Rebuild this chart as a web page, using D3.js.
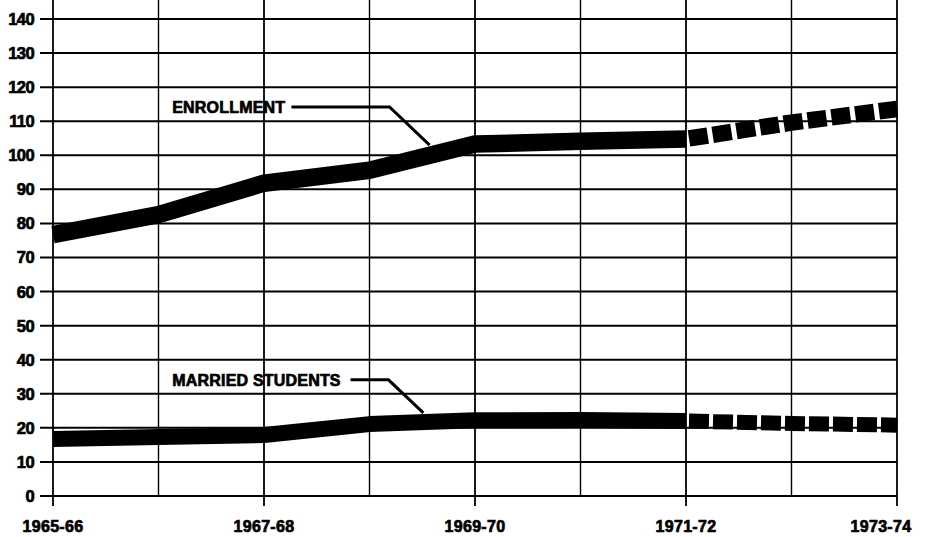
<!DOCTYPE html>
<html>
<head>
<meta charset="utf-8">
<script src="https://cdn.jsdelivr.net/npm/d3@7"></script>
<style>
  body { margin: 0; background: #fff; }
  svg text { font-family: "Liberation Sans", Arial, sans-serif; font-weight: bold; fill: #000; stroke: #000; stroke-width: 0.7px; }
</style>
</head>
<body>
<svg id="chart"></svg>
<script>
const WIDTH = 934;
const HEIGHT = 537;

const years = ['1965-66', '1966-67', '1967-68', '1968-69', '1969-70', '1970-71', '1971-72', '1972-73', '1973-74'];
const labelledYears = ['1965-66', '1967-68', '1969-70', '1971-72', '1973-74'];
const enrollment = [76.7, 82.6, 91.8, 95.6, 103.3, 104.1, 104.8, 109.6, 113.6];
const married = [16.7, 17.3, 17.9, 21.1, 22.2, 22.3, 22.0, 21.3, 20.8];
const yTicks = d3.range(0, 141, 10);
// index where the projected (dashed) part begins
const projectedFrom = 6;

const svg = d3.select('#chart')
    .attr('width', WIDTH)
    .attr('height', HEIGHT);

const x = d3.scaleLinear().domain([0, years.length - 1]).range([53, 897]);
const y = d3.scaleLinear().domain([0, 140]).range([496, 19]);

// horizontal grid + left ticks
svg.append('g')
    .attr('class', 'y-grid')
    .selectAll('line')
    .data(yTicks)
    .join('line')
    .attr('x1', 40)
    .attr('x2', x(years.length - 1))
    .attr('y1', d => y(d))
    .attr('y2', d => y(d))
    .attr('stroke', '#000')
    .attr('stroke-width', 2);

svg.append('g')
    .selectAll('text')
    .data(yTicks)
    .join('text')
    .attr('x', 34)
    .attr('y', d => y(d))
    .attr('dy', '0.36em')
    .attr('text-anchor', 'end')
    .attr('font-size', 16.5)
    .attr('letter-spacing', -0.6)
    .text(d => d);

// vertical grid
svg.append('g')
    .attr('class', 'x-grid')
    .selectAll('line')
    .data(years)
    .join('line')
    .attr('x1', (d, i) => x(i))
    .attr('x2', (d, i) => x(i))
    .attr('y1', 0)
    .attr('y2', d => labelledYears.includes(d) ? 506 : y(0))
    .attr('stroke', '#000')
    .attr('stroke-width', d => labelledYears.includes(d) ? 1.8 : 1.4);

svg.append('g')
    .selectAll('text')
    .data(labelledYears)
    .join('text')
    .attr('x', d => {
        const i = years.indexOf(d);
        return i === years.length - 1 ? x(i) - 16 : x(i);
    })
    .attr('y', 526)
    .attr('dy', '0.36em')
    .attr('text-anchor', 'middle')
    .attr('font-size', 16)
    .attr('letter-spacing', 0.3)
    .text(d => d);

const line = d3.line()
    .x(d => x(d.i))
    .y(d => y(d.v));

function drawSeries(values, width, dash) {
    const pts = values.map((v, i) => ({ i, v }));
    svg.append('path')
        .datum(pts.slice(0, projectedFrom + 1))
        .attr('d', line)
        .attr('fill', 'none')
        .attr('stroke', '#000')
        .attr('stroke-width', width)
        .attr('stroke-linejoin', 'round');
    svg.append('path')
        .datum(pts.slice(projectedFrom))
        .attr('d', line)
        .attr('fill', 'none')
        .attr('stroke', '#000')
        .attr('stroke-width', width - 1)
        .attr('stroke-dasharray', dash)
        .attr('stroke-dashoffset', -3);
}

drawSeries(enrollment, 17.5, '19 5');
drawSeries(married, 16, '20 4');

// labels with leader lines (positions in data units)
const annotations = [
    { text: 'ENROLLMENT', at: [1.13, 114], path: [[2.26, 114.2], [3.19, 114.2], [3.57, 103]] },
    { text: 'MARRIED STUDENTS', at: [1.13, 34.1], path: [[2.82, 34.1], [3.18, 34.1], [3.51, 24.4]] }
];

annotations.forEach(a => {
    svg.append('text')
        .attr('x', x(a.at[0]))
        .attr('y', y(a.at[1]))
        .attr('dy', '0.36em')
        .attr('font-size', 16)
        .attr('letter-spacing', 0.2)
        .text(a.text);
    svg.append('path')
        .datum(a.path)
        .attr('d', d3.line().x(d => x(d[0])).y(d => y(d[1])))
        .attr('fill', 'none')
        .attr('stroke', '#000')
        .attr('stroke-width', 3);
});
</script>
</body>
</html>
